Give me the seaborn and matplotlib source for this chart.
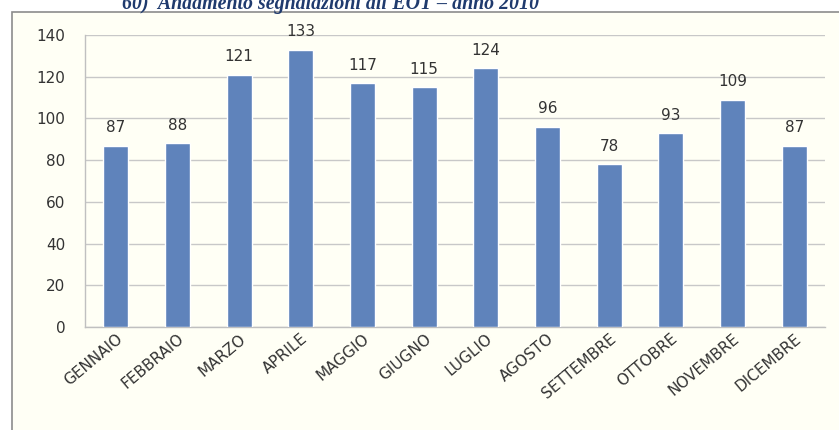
import matplotlib
matplotlib.use("Agg")
import matplotlib.pyplot as plt
import seaborn as sns
import pandas as pd
import numpy as np
from matplotlib.patches import Rectangle

# --- Data ---
mesi = ["GENNAIO", "FEBBRAIO", "MARZO", "APRILE", "MAGGIO", "GIUGNO",
        "LUGLIO", "AGOSTO", "SETTEMBRE", "OTTOBRE", "NOVEMBRE", "DICEMBRE"]
segnalazioni = [87, 88, 121, 133, 117, 115, 124, 96, 78, 93, 109, 87]
yticks = [0, 20, 40, 60, 80, 100, 120, 140]

df = pd.DataFrame({"Mese": mesi, "Segnalazioni": segnalazioni})

sns.set_style("white")
plt.rcParams['font.family'] = ['DejaVu Sans']

fig = plt.figure(figsize=(8.39, 4.30), dpi=100)
fig.patch.set_facecolor("white")

# chart frame (cream box with grey border, cut on right/bottom)
frame = Rectangle((12 / 839, -0.05), 1.0, 1 - 12 / 430 + 0.05, transform=fig.transFigure,
                  facecolor="#fffff5", edgecolor="#8c8c8c", linewidth=1.2, zorder=-5)
fig.patches.append(frame)

# title, cut by the top edge as in the original page scan
fig.text(122 / 839, 1 - 4 / 430, "60)  Andamento segnalazioni all'EOT \u2013 anno 2010",
         family="Liberation Serif", fontsize=14.3, fontweight="bold", fontstyle="italic",
         color="#1f3a6e", va="center", ha="left", zorder=-4)

ax = fig.add_axes([85 / 839, 1 - 327 / 430, 740 / 839, (327 - 35) / 430])
ax.set_facecolor("none")
ax.set_zorder(2)

sns.barplot(data=df, x="Mese", y="Segnalazioni", color="#5f83bb", width=0.41,
            saturation=1, ax=ax, zorder=3)

for i, v in enumerate(segnalazioni):
    ax.text(i, v + 5, str(v), ha="center", va="bottom", fontsize=11, color="#333333")

ax.set_ylim(0, 140)
ax.set_xlim(-0.5, len(mesi) - 0.5)
ax.set_yticks(yticks)
ax.yaxis.grid(True, color="#c8c8c8", linewidth=1)
ax.set_axisbelow(True)

for s in ["top", "right"]:
    ax.spines[s].set_visible(False)
for s in ["left", "bottom"]:
    ax.spines[s].set_color("#c0c0c0")
    ax.spines[s].set_linewidth(1)

ax.tick_params(axis="y", length=8, color="#c0c0c0", labelsize=11, labelcolor="#333333", pad=6)
ax.tick_params(axis="x", which="major", length=0, labelsize=11, labelcolor="#333333", pad=3)
ax.set_xticks(np.arange(-0.5, len(mesi), 1), minor=True)
ax.tick_params(axis="x", which="minor", length=5, color="#c0c0c0")
plt.setp(ax.get_xticklabels(), rotation=40, ha="right", rotation_mode="anchor")

ax.set_xlabel("")
ax.set_ylabel("")

fig.savefig("out.png", dpi=100)
print("code successful")
